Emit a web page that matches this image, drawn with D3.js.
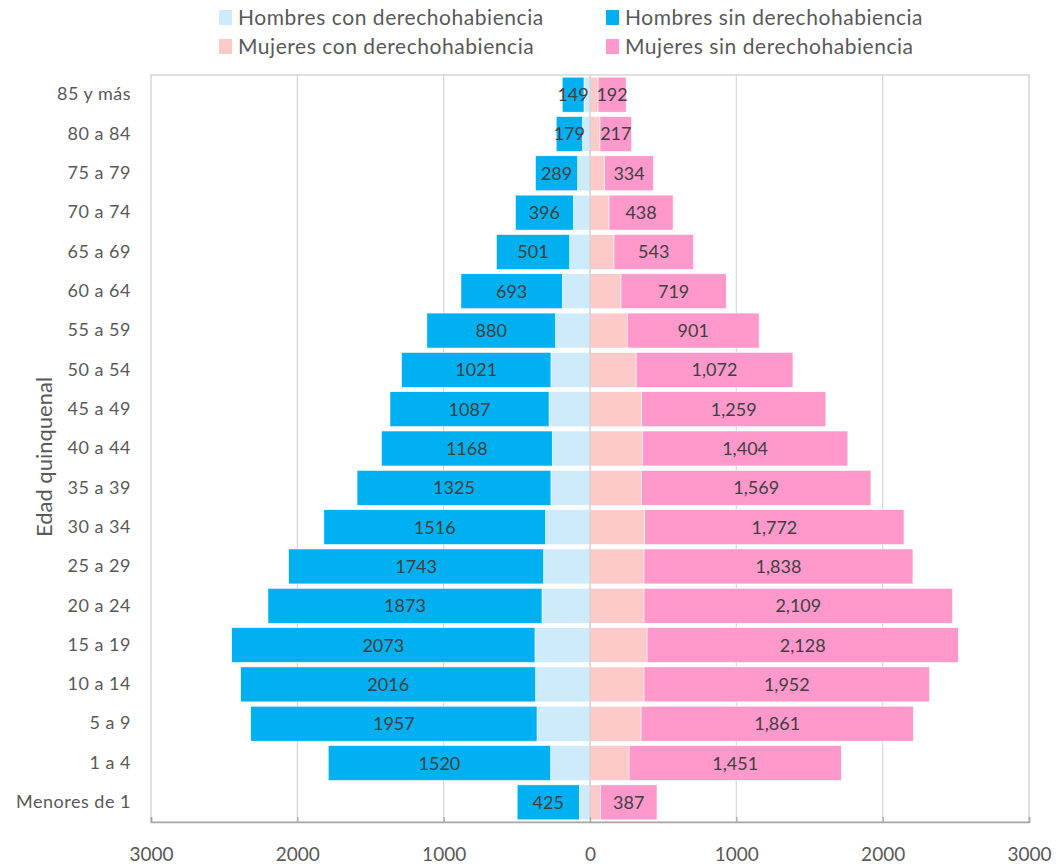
<!DOCTYPE html>
<html>
<head>
<meta charset="utf-8">
<script src="https://cdn.jsdelivr.net/npm/d3@7"></script>
<style>
  body { margin: 0; background: #fff; }
  svg { display: block; font-family: Lato, "Open Sans", sans-serif; }
</style>
</head>
<body>
<svg width="1058" height="865"></svg>
<script>
// age groups, top to bottom
var ages = ["85 y más", "80 a 84", "75 a 79", "70 a 74", "65 a 69", "60 a 64", "55 a 59",
    "50 a 54", "45 a 49", "40 a 44", "35 a 39", "30 a 34", "25 a 29", "20 a 24",
    "15 a 19", "10 a 14", "5 a 9", "1 a 4", "Menores de 1"];

var menCon = [41, 52, 84, 114, 139, 189, 235, 267, 280, 258, 267, 303, 317, 328, 376, 371, 362, 269, 73];
var menSin = [149, 179, 289, 396, 501, 693, 880, 1021, 1087, 1168, 1325, 1516, 1743, 1873, 2073, 2016, 1957, 1520, 425];
var womenCon = [55, 68, 100, 130, 164, 212, 255, 315, 353, 358, 351, 374, 369, 369, 390, 369, 349, 267, 71];
var womenSin = [192, 217, 334, 438, 543, 719, 901, 1072, 1259, 1404, 1569, 1772, 1838, 2109, 2128, 1952, 1861, 1451, 387];

var xTicks = [-3000, -2000, -1000, 0, 1000, 2000, 3000];

var seriesNames = ["Hombres con derechohabiencia", "Hombres sin derechohabiencia",
    "Mujeres con derechohabiencia", "Mujeres sin derechohabiencia"];
var colors = ["#cdebfb", "#00b0f0", "#fdc9c9", "#ff99cc"];

function main() {
    var svg = d3.select("svg");
    var left = 151, right = 1029, top = 75, bottom = 822;

    var x = d3.scaleLinear().domain([-3000, 3000]).range([left, right]);
    var y = d3.scaleBand().domain(ages).range([top, bottom]).paddingInner(0.11).paddingOuter(0.055);

    var rows = ages.map(function (a, i) {
        return { age: a, mc: menCon[i], ms: menSin[i], wc: womenCon[i], ws: womenSin[i] };
    });

    // gridlines
    svg.append("g").selectAll("line")
        .data([-2000, -1000, 1000, 2000])
        .enter().append("line")
        .attr("x1", function (d) { return x(d); })
        .attr("x2", function (d) { return x(d); })
        .attr("y1", top).attr("y2", bottom)
        .attr("stroke", "#d9d9d9").attr("stroke-width", 1.3);

    // plot border
    svg.append("rect")
        .attr("x", left).attr("y", top)
        .attr("width", right - left).attr("height", bottom - top)
        .attr("fill", "none").attr("stroke", "#d0d0d0").attr("stroke-width", 1.3);

    // segments: [start, end, color index]
    var segs = [];
    rows.forEach(function (r) {
        segs.push({ age: r.age, a: 0, b: -r.mc, c: 0 });
        segs.push({ age: r.age, a: -r.mc, b: -(r.mc + r.ms), c: 1 });
        segs.push({ age: r.age, a: 0, b: r.wc, c: 2 });
        segs.push({ age: r.age, a: r.wc, b: r.wc + r.ws, c: 3 });
    });

    svg.append("g").selectAll("rect")
        .data(segs)
        .enter().append("rect")
        .attr("x", function (d) { return x(Math.min(d.a, d.b)); })
        .attr("y", function (d) { return y(d.age); })
        .attr("width", function (d) { return Math.abs(x(d.b) - x(d.a)); })
        .attr("height", y.bandwidth())
        .attr("fill", function (d) { return colors[d.c]; })
        .attr("stroke", "#fff").attr("stroke-width", 0.6);

    // zero line
    svg.append("line")
        .attr("x1", x(0)).attr("x2", x(0))
        .attr("y1", top).attr("y2", bottom)
        .attr("stroke", "#d0d0d0").attr("stroke-width", 1.5);

    // labels on the "sin" segments
    var labels = svg.append("g")
        .attr("font-size", "18px").attr("fill", "#404040").attr("text-anchor", "middle");
    rows.forEach(function (r) {
        labels.append("text")
            .attr("x", x(-(r.mc + r.ms / 2)))
            .attr("y", y(r.age) + y.bandwidth() / 2)
            .attr("dy", "0.36em")
            .text(r.ms);
        labels.append("text")
            .attr("x", x(r.wc + r.ws / 2))
            .attr("y", y(r.age) + y.bandwidth() / 2)
            .attr("dy", "0.36em")
            .text(d3.format(",")(r.ws));
    });

    // x axis
    var xAxis = svg.append("g")
        .attr("transform", "translate(0," + bottom + ")")
        .call(d3.axisBottom(x).tickValues(xTicks)
            .tickFormat(function (d) { return Math.abs(d); })
            .tickSize(-5).tickPadding(26));
    xAxis.select(".domain").attr("stroke", "#a6a6a6").attr("stroke-width", 1.5);
    xAxis.selectAll(".tick line").attr("stroke", "#a6a6a6").attr("stroke-width", 1.3);
    xAxis.selectAll("text").attr("font-family", "Lato").attr("font-size", "19px").attr("fill", "#595959");

    // y axis
    var yAxis = svg.append("g")
        .attr("transform", "translate(" + left + ",0)")
        .call(d3.axisLeft(y).tickSize(0).tickPadding(20));
    yAxis.select(".domain").remove();
    yAxis.selectAll("text").attr("font-family", "Lato").attr("font-size", "18px")
        .attr("letter-spacing", "0.5px").attr("fill", "#595959");

    // y axis title
    svg.append("text")
        .attr("transform", "translate(52,457) rotate(-90)")
        .attr("text-anchor", "middle")
        .attr("font-size", "22px").attr("fill", "#595959")
        .text("Edad quinquenal");

    // legend
    var legendPos = [[219, 17], [606, 17], [219, 46], [606, 46]];
    var legend = svg.append("g");
    seriesNames.forEach(function (name, i) {
        var p = legendPos[i];
        legend.append("rect")
            .attr("x", p[0]).attr("y", p[1] - 7)
            .attr("width", 13).attr("height", 15)
            .attr("fill", colors[i]);
        legend.append("text")
            .attr("x", p[0] + 19).attr("y", p[1])
            .attr("dy", "0.36em")
            .attr("font-size", "21px").attr("letter-spacing", "0.55px").attr("fill", "#595959")
            .text(name);
    });
}
main();
</script>
</body>
</html>
